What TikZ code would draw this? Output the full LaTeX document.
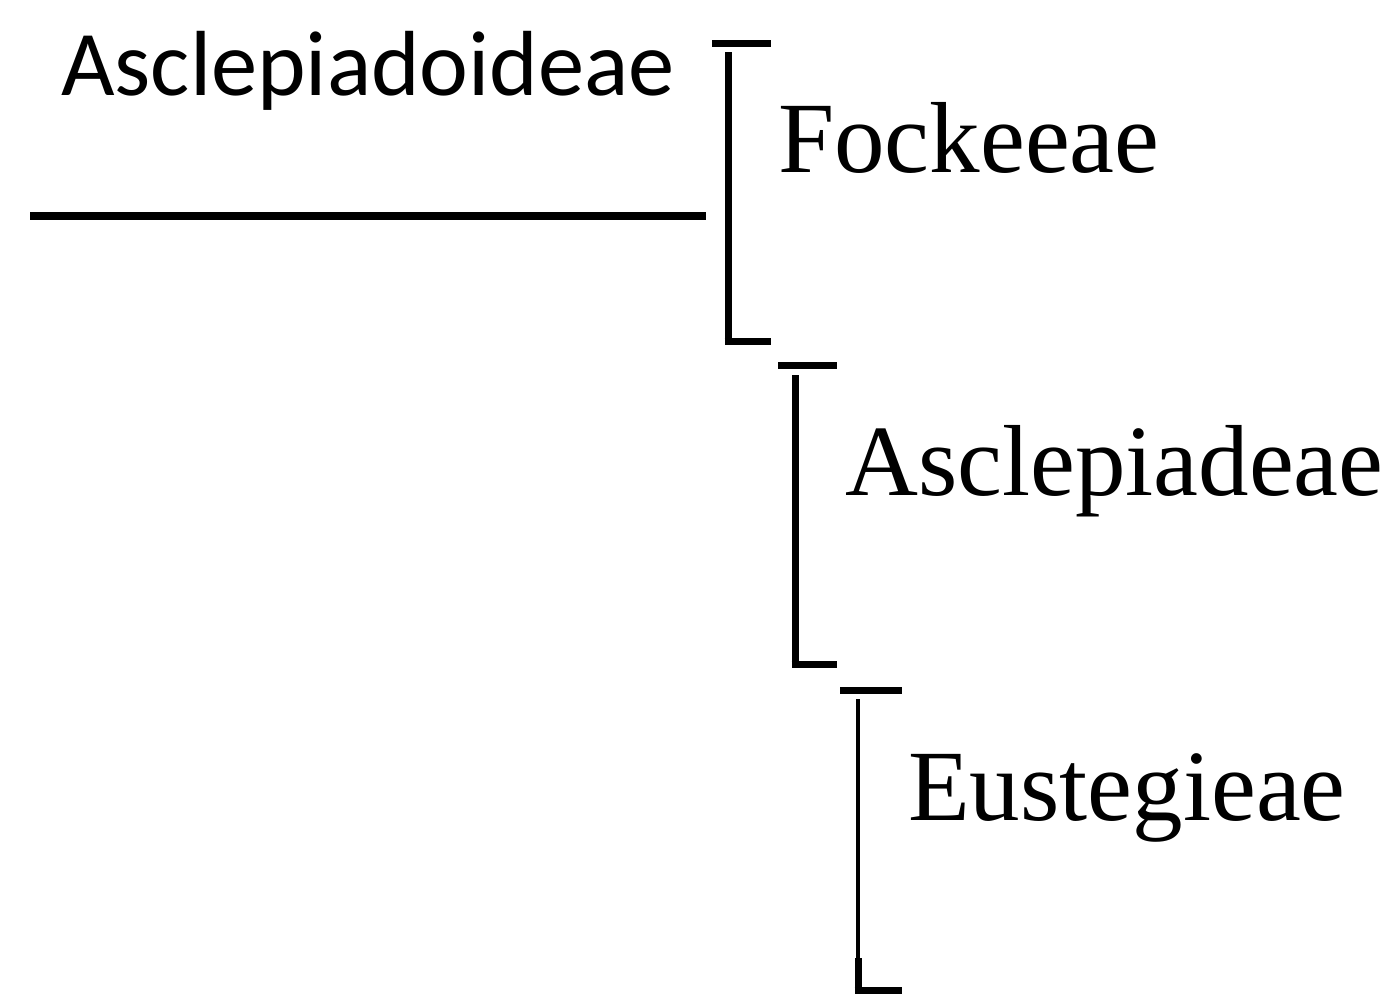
\documentclass[tikz,border=0pt]{standalone}
\usepackage{fontspec}
\setmainfont{Liberation Serif}
\newfontfamily\calib{Carlito}
\begin{document}
\begin{tikzpicture}[x=1pt,y=-1pt,
  thickbar/.style={line width=7pt,line cap=butt},
  thinbar/.style={line width=4.5pt,line cap=butt},
  serlabel/.style={anchor=base west,inner sep=0pt,font=\fontsize{101}{101}\selectfont},
  sanslabel/.style={anchor=base west,inner sep=0pt,font=\calib\fontsize{92.5}{92.5}\selectfont}]
\useasboundingbox (0,0) rectangle (1398,1004);
% root line
\coordinate (r0) at (30,216);
\coordinate (r1) at (706,216);
\draw[line width=8pt] (r0) -- (r1);
\node[sanslabel] (asd) at (61,95) {Asclepiadoideae};
% bracket 1
\draw[thickbar] (712,43) -- (771,43);
\draw[thickbar] (728,52) -- (728,344.5);
\draw[thickbar] (724.5,341) -- (771,341);
\node[serlabel] (fock) at (778,172) {Fockeeae};
% bracket 2
\draw[thickbar] (778,365) -- (837,365);
\draw[thickbar] (795,375) -- (795,667.5);
\draw[thickbar] (791.5,664) -- (837,664);
\node[serlabel] (ascl) at (845,495) {Asclepiadeae};
% bracket 3
\draw[thickbar] (840,690) -- (902,690);
\draw[thinbar] (858,699) -- (858,960);
\draw[thickbar] (858,958) -- (858,994);
\draw[thickbar] (854.5,990) -- (902,990);
\node[serlabel] (eust) at (908,820) {Eustegieae};
\end{tikzpicture}
\end{document}
